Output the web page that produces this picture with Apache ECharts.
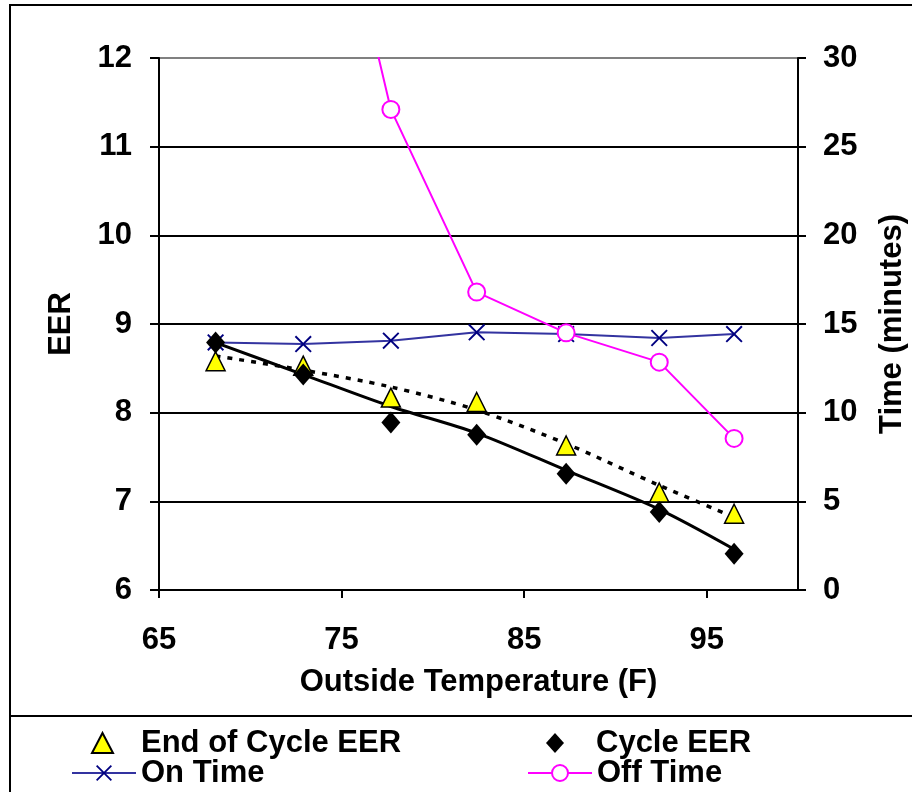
<!DOCTYPE html>
<html>
<head>
<meta charset="utf-8">
<script src="https://cdn.jsdelivr.net/npm/echarts@6/dist/echarts.min.js"></script>
<style>
html,body{margin:0;padding:0;background:#fff;overflow:hidden;}
#chart{width:912px;height:792px;}
</style>
</head>
<body>
<div id="chart"></div>
<script>
// ---- data ----
const temps        = [68.1, 72.9, 77.7, 82.4, 87.3, 92.4, 96.5];
const endCycleEER  = [8.58, 8.53, 8.17, 8.12, 7.63, 7.10, 6.86];
const cycleEER     = [8.79, 8.43, 7.89, 7.75, 7.31, 6.88, 6.41];
const endCycleTrend = [8.64, 8.48, 8.29, 8.03, 7.65, 7.18, 6.82];
const cycleTrend    = [8.79, 8.43, 8.07, 7.77, 7.35, 6.91, 6.46];
const onTime  = [13.96, 13.87, 14.06, 14.53, 14.43, 14.21, 14.43];
const offTime = [null, 48, 27.1, 16.8, 14.5, 12.85, 8.55];
const xTicks = [65, 75, 85, 95];

const pairs = (ys) => temps.map((t, i) => [t, ys[i] == null ? '-' : ys[i]]);

const FONT = 'Liberation Sans, Arial, sans-serif';
const txt = { fontFamily: FONT, fontWeight: 'bold', fontSize: 31, color: '#000' };
const X_PATH = 'path://M0,1.6L1.6,0L10,8.4L18.4,0L20,1.6L11.6,10L20,18.4L18.4,20L10,11.6L1.6,20L0,18.4L8.4,10Z';

const chart = echarts.init(document.getElementById('chart'), null, { renderer: 'canvas' });

function legendItem(name, left, top, iw, ih, padLeft) {
  return {
    left: left, top: top, orient: 'horizontal',
    itemWidth: iw, itemHeight: ih, padding: 5,
    selectedMode: false,
    textStyle: Object.assign({}, txt, { lineHeight: 32, padding: [0, 0, 0, padLeft] }),
    data: [name]
  };
}

const option = {
  animation: false,
  backgroundColor: '#fff',
  grid: { left: 159, right: 114, top: 58, bottom: 202, containLabel: false, outerBoundsMode: 'none' },
  xAxis: {
    type: 'value', min: 65, max: 100, interval: 10,
    name: 'Outside Temperature (F)', nameLocation: 'middle', nameGap: 77,
    nameTextStyle: txt,
    axisLine: { onZero: false, lineStyle: { color: '#000', width: 2 } },
    axisTick: { inside: false, length: 8, lineStyle: { color: '#000', width: 2 }, customValues: xTicks },
    axisLabel: Object.assign({}, txt, { margin: 35, customValues: xTicks }),
    splitLine: { show: false }
  },
  yAxis: [
    {
      type: 'value', min: 6, max: 12, interval: 1, position: 'left',
      name: 'EER', nameLocation: 'middle', nameGap: 82,
      nameTextStyle: txt,
      axisLine: { show: true, lineStyle: { color: '#000', width: 2 } },
      axisTick: { show: true, length: 9, lineStyle: { color: '#000', width: 2 } },
      axisLabel: Object.assign({}, txt, { margin: 27 }),
      splitLine: { show: true, lineStyle: { color: ['#000', '#000', '#000', '#000', '#000', '#000', '#808080'], width: 2 } }
    },
    {
      type: 'value', min: 0, max: 30, interval: 5, position: 'right',
      name: 'Time (minutes)', nameLocation: 'middle', nameGap: 79,
      nameTextStyle: txt,
      axisLine: { show: true, lineStyle: { color: '#000', width: 2 } },
      axisTick: { show: true, length: 8, lineStyle: { color: '#000', width: 2 } },
      axisLabel: Object.assign({}, txt, { margin: 25 }),
      splitLine: { show: false }
    }
  ],
  legend: [
    legendItem('End of Cycle EER', 86, 722, 21, 20, 23),
    legendItem('Cycle EER', 541, 722, 18, 20, 27),
    legendItem('On Time', 66, 752, 64, 20, 0),
    legendItem('Off Time', 522, 752, 64, 20, 0)
  ],
  graphic: [
    { type: 'rect', shape: { x: 10, y: 5, width: 920, height: 800 }, style: { fill: 'none', stroke: '#000', lineWidth: 2 }, silent: true, z: -1 },
    { type: 'line', shape: { x1: 10, y1: 716, x2: 912, y2: 716 }, style: { stroke: '#000', lineWidth: 2 }, silent: true, z: -1 }
  ],
  series: [
    {
      name: 'Cycle EER trend', type: 'line', data: pairs(cycleTrend),
      smooth: 0.3, showSymbol: false, symbol: 'none', silent: true,
      lineStyle: { color: '#000', width: 3 }, z: 2
    },
    {
      name: 'End of Cycle EER trend', type: 'line', data: pairs(endCycleTrend),
      smooth: 0.3, showSymbol: false, symbol: 'none', silent: true,
      lineStyle: { color: '#000', width: 3.5, type: [5, 7] }, z: 2
    },
    {
      name: 'On Time', type: 'line', yAxisIndex: 1, data: pairs(onTime),
      symbol: X_PATH, symbolSize: 17, showSymbol: true,
      itemStyle: { color: '#000080' },
      lineStyle: { color: '#3333A0', width: 2 }, z: 3
    },
    {
      name: 'Off Time', type: 'line', yAxisIndex: 1, data: pairs(offTime),
      symbol: 'circle', symbolSize: 17, showSymbol: true, clip: true, connectNulls: false,
      itemStyle: { color: '#fff', borderColor: '#FF00FF', borderWidth: 2 },
      lineStyle: { color: '#FF00FF', width: 2 }, z: 3
    },
    {
      name: 'End of Cycle EER', type: 'scatter', data: pairs(endCycleEER),
      symbol: 'triangle', symbolSize: [19, 19],
      itemStyle: { color: '#FFFF00', borderColor: '#000', borderWidth: 1.5, opacity: 1 }, z: 4
    },
    {
      name: 'Cycle EER', type: 'scatter', data: pairs(cycleEER),
      symbol: 'diamond', symbolSize: [19, 22],
      itemStyle: { color: '#000', opacity: 1 }, z: 5
    }
  ]
};
chart.setOption(option);
</script>
</body>
</html>
